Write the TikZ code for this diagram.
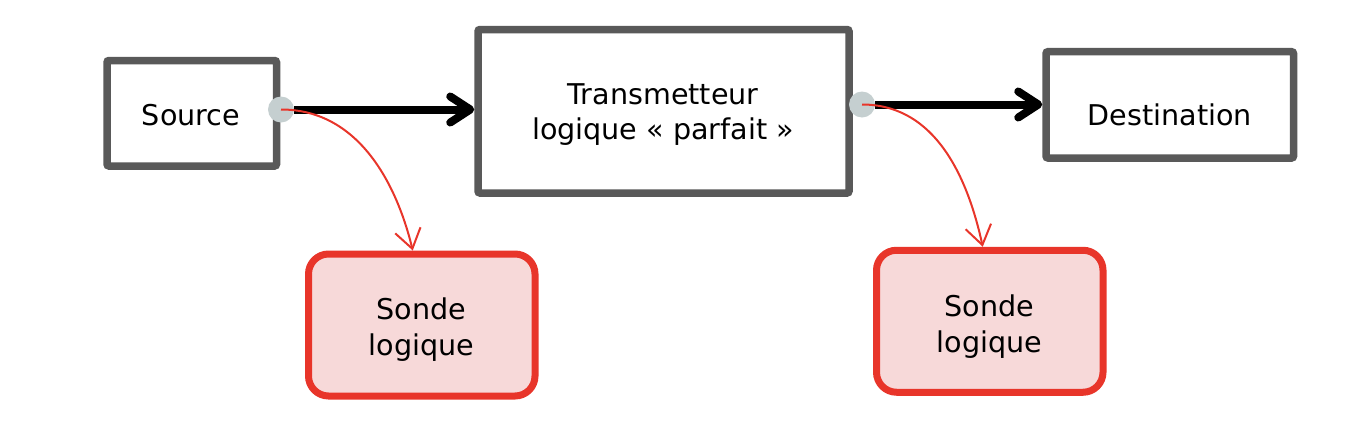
\documentclass[tikz,border=0pt]{standalone}
\usepackage{fontspec}
\setmainfont{DejaVu Sans}
\usetikzlibrary{arrows.meta}
\definecolor{boxgray}{HTML}{595959}
\definecolor{dotgray}{HTML}{C5CFD0}
\definecolor{probered}{HTML}{E8352A}
\definecolor{probefill}{HTML}{F7D9D9}
\tikzset{
  blockbox/.style={draw=boxgray, line width=7.5pt, rounded corners=2pt, fill=white, inner sep=0pt},
  probebox/.style={draw=probered, line width=7pt, rounded corners=20pt, fill=probefill,
    inner sep=0pt, minimum width=226.5pt, minimum height=142pt},
  lbl/.style={font=\fontsize{28.6}{35}\selectfont, align=center, inner sep=0pt},
  probelbl/.style={font=\fontsize{28.6}{36}\selectfont, align=center, inner sep=0pt},
  portdot/.style={circle, fill=dotgray, minimum size=26pt, inner sep=0pt},
  mainarrow/.style={line width=8pt, -{Straight Barb[length=20pt,width=26pt,round]}},
  probearrow/.style={draw=probered, line width=2pt, -{Straight Barb[length=19pt,width=26pt]}},
}
\begin{document}
\begin{tikzpicture}[x=1pt,y=-1pt]
\useasboundingbox (0,0) rectangle (1372,426);
% boxes
\node[blockbox, minimum width=169.5pt, minimum height=105.5pt] (src) at (191.75,113.25) {};
\node[blockbox, minimum width=371pt, minimum height=163.5pt] (tx) at (663.5,111.25) {};
\node[blockbox, minimum width=247.5pt, minimum height=106.3pt] (dst) at (1169.75,104.85) {};
\node[probebox] (p1) at (421.75,325) {};
\node[probebox] (p2) at (989.75,321.25) {};
% labels
\node[lbl] (srcT) at (191,115) {Source};
\node[lbl] (txT) at (663,114.2) {Transmetteur\\logique « parfait »};
\node[lbl] (dstT) at (1170,115) {Destination};
\node[probelbl] (p1T) at (421.5,329.6) {Sonde\\logique};
\node[probelbl] (p2T) at (989.5,326.4) {Sonde\\logique};
% ports
\node[portdot] (d1) at (281,109.5) {};
\node[portdot] (d2) at (862,104.5) {};
% main arrows
\draw[mainarrow] (d1.east) -- (d1.center -| tx.west);
\draw[mainarrow] (d2.east) -- (d2.center -| dst.west);
% probe arrows
\coordinate (p1in) at ([xshift=-9pt]p1.north);
\coordinate (p2in) at ([xshift=-7pt]p2.north);
\draw[probearrow] (d1.center) .. controls +(80,0) and +(-15,-62) .. (p1in);
\draw[probearrow] (d2.center) .. controls +(76,0) and +(-14,-64) .. (p2in);
\end{tikzpicture}
\end{document}
